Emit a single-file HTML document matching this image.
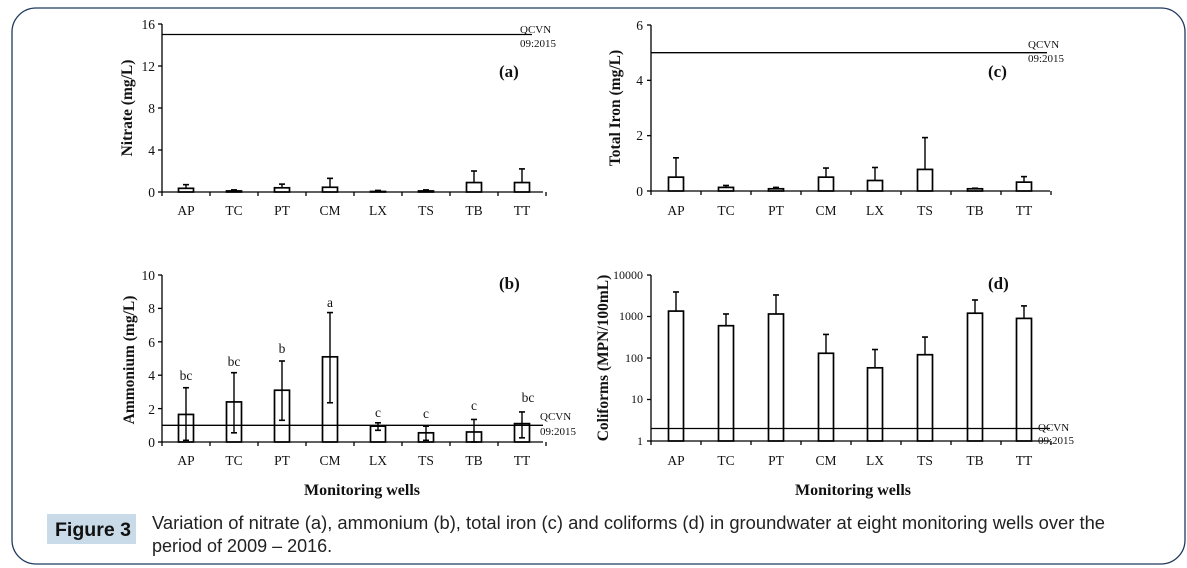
<!DOCTYPE html>
<html><head><meta charset="utf-8"><style>
body{margin:0;background:#fff}
svg{display:block}
.t{font-family:"Liberation Serif",serif;fill:#111}
.cap{font-family:"Liberation Sans",sans-serif;fill:#222;font-size:18px}
</style></head><body>
<svg id="s" width="1187" height="568" xmlns="http://www.w3.org/2000/svg">
<rect x="12" y="8" width="1173" height="556" rx="24" fill="none" stroke="#1f3a5f" stroke-width="1.3"/>
<g id="g" stroke="#000" fill="none"></g>
<g class="t" font-size="13.5">
<g text-anchor="end"><text x="155" y="29">16</text><text x="155" y="71">12</text><text x="155" y="113">8</text><text x="155" y="155">4</text><text x="155" y="197">0</text></g>
<g text-anchor="middle"><text x="186" y="215">AP</text><text x="234" y="215">TC</text><text x="282" y="215">PT</text><text x="330" y="215">CM</text><text x="378" y="215">LX</text><text x="426" y="215">TS</text><text x="474" y="215">TB</text><text x="522" y="215">TT</text></g>
<text x="520" y="33" font-size="11">QCVN</text><text x="520" y="47" font-size="11">09:2015</text>
<text x="499" y="77" font-size="17" font-weight="bold">(a)</text>
<text transform="translate(132,108) rotate(-90)" text-anchor="middle" font-weight="bold" font-size="15.5">Nitrate (mg/L)</text>
<g text-anchor="end"><text x="155" y="280">10</text><text x="155" y="313">8</text><text x="155" y="347">6</text><text x="155" y="380">4</text><text x="155" y="414">2</text><text x="155" y="447">0</text></g>
<g text-anchor="middle"><text x="186" y="465">AP</text><text x="234" y="465">TC</text><text x="282" y="465">PT</text><text x="330" y="465">CM</text><text x="378" y="465">LX</text><text x="426" y="465">TS</text><text x="474" y="465">TB</text><text x="522" y="465">TT</text>
<text x="186" y="380">bc</text><text x="234" y="366">bc</text><text x="282" y="353">b</text><text x="330" y="307">a</text><text x="378" y="417">c</text><text x="426" y="418">c</text><text x="474" y="410">c</text><text x="528" y="402">bc</text></g>
<text x="540" y="420" font-size="11">QCVN</text><text x="540" y="435" font-size="11">09:2015</text>
<text x="499" y="289" font-size="17" font-weight="bold">(b)</text>
<text transform="translate(134,360) rotate(-90)" text-anchor="middle" font-weight="bold" font-size="15.5">Ammonium (mg/L)</text>
<text x="362" y="495" text-anchor="middle" font-weight="bold" font-size="16">Monitoring wells</text>
<g text-anchor="end"><text x="643" y="30">6</text><text x="643" y="85">4</text><text x="643" y="140">2</text><text x="643" y="196">0</text></g>
<g text-anchor="middle"><text x="676" y="215">AP</text><text x="726" y="215">TC</text><text x="776" y="215">PT</text><text x="826" y="215">CM</text><text x="875" y="215">LX</text><text x="925" y="215">TS</text><text x="975" y="215">TB</text><text x="1024" y="215">TT</text></g>
<text x="1028" y="48" font-size="11">QCVN</text><text x="1028" y="62" font-size="11">09:2015</text>
<text x="988" y="77" font-size="17" font-weight="bold">(c)</text>
<text transform="translate(620,108) rotate(-90)" text-anchor="middle" font-weight="bold" font-size="15.5">Total Iron (mg/L)</text>
<g text-anchor="end" font-size="12"><text x="643" y="279">10000</text><text x="643" y="320">1000</text><text x="643" y="362">100</text><text x="643" y="403">10</text><text x="643" y="445">1</text></g>
<g text-anchor="middle"><text x="676" y="465">AP</text><text x="726" y="465">TC</text><text x="776" y="465">PT</text><text x="826" y="465">CM</text><text x="875" y="465">LX</text><text x="925" y="465">TS</text><text x="975" y="465">TB</text><text x="1024" y="465">TT</text></g>
<text x="1038" y="431" font-size="11">QCVN</text><text x="1038" y="444" font-size="11">09:2015</text>
<text x="988" y="289" font-size="17" font-weight="bold">(d)</text>
<text transform="translate(608,358) rotate(-90)" text-anchor="middle" font-weight="bold" font-size="15.5">Coliforms (MPN/100mL)</text>
<text x="853" y="495" text-anchor="middle" font-weight="bold" font-size="16">Monitoring wells</text>
</g>
<rect x="47" y="514" width="89" height="30" fill="#c9dbe9"/>
<text x="55" y="536" font-family="'Liberation Sans',sans-serif" font-weight="bold" font-size="19" fill="#111" textLength="76" lengthAdjust="spacingAndGlyphs">Figure 3</text>
<text class="cap" x="152" y="529" textLength="953" lengthAdjust="spacingAndGlyphs">Variation of nitrate (a), ammonium (b), total iron (c) and coliforms (d) in groundwater at eight monitoring wells over the</text>
<text class="cap" x="152" y="552">period of 2009 – 2016.</text>
</svg>
<script>
var g=document.getElementById('g'),ns='http://www.w3.org/2000/svg';
function L(x1,y1,x2,y2,w){var e=document.createElementNS(ns,'line');e.setAttribute('x1',x1);e.setAttribute('y1',y1);e.setAttribute('x2',x2);e.setAttribute('y2',y2);e.setAttribute('stroke-width',w||1.3);g.appendChild(e);}
function R(x,y,w,h){var e=document.createElementNS(ns,'rect');e.setAttribute('x',x);e.setAttribute('y',y);e.setAttribute('width',w);e.setAttribute('height',h);e.setAttribute('stroke-width',1.7);g.appendChild(e);}
function panel(ax,top,bot,end,xs,ticks,fy,vals,lo,hi,q,qend,bw){
 L(ax,top,ax,bot);L(ax,bot,end,bot);
 ticks.forEach(function(t){L(ax-4,fy(t),ax,fy(t));});
 var d=xs[1]-xs[0];
 for(var i=0;i<=8;i++){var xx=xs[0]-d/2+d*i; L(xx,bot,xx,bot+4);}
 xs.forEach(function(x,i){var y=fy(vals[i]);R(x-bw/2,y,bw,bot-y);var yh=fy(hi[i]);L(x,yh,x,lo?fy(lo[i]):y,1.4);L(x-3,yh,x+3,yh,1.6);if(lo){L(x-3,fy(lo[i]),x+3,fy(lo[i]),1.6);}});
 L(ax,fy(q),qend,fy(q),1.3);
}
var xa=[186,234,282,330,378,426,474,522],xc=[676,726,776,826,875,925,975,1024];
panel(162,24,192,543,xa,[0,4,8,12,16],function(v){return 192-v*168/16;},[.35,.1,.4,.45,.05,.1,.9,.9],null,[.7,.2,.75,1.3,.15,.2,2,2.2],15,532,15);
panel(162,275,442,543,xa,[0,2,4,6,8,10],function(v){return 442-v*16.7;},[1.65,2.4,3.1,5.1,.95,.55,.6,1.1],[.1,.55,1.3,2.35,.7,.1,0,.25],[3.25,4.15,4.85,7.75,1.15,.95,1.35,1.8],1,543,15);
panel(651,25,191,1050,xc,[0,2,4,6],function(v){return 191-v*166/6;},[.5,.13,.08,.5,.38,.78,.08,.32],null,[1.2,.2,.13,.83,.85,1.93,.1,.52],5,1047,15);
panel(651,275,441,1050,xc,[1,10,100,1000,10000],function(v){return 441-Math.log10(v)*41.5;},[1350,600,1150,130,58,120,1200,900],null,[3900,1150,3300,370,160,320,2500,1800],2,1050,15);
</script>
</body></html>
